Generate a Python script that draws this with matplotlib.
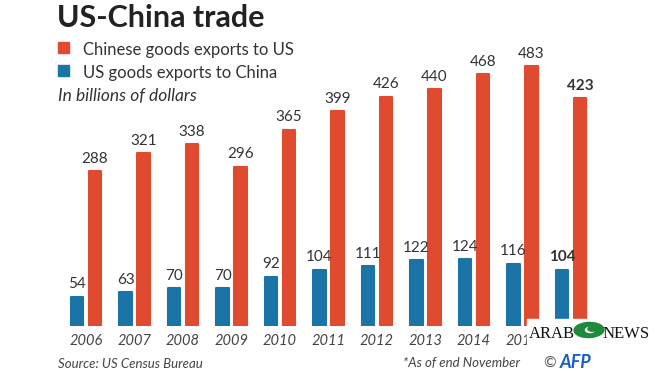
import matplotlib.pyplot as plt
from matplotlib.patches import Rectangle, Ellipse, Circle

years = ["2006", "2007", "2008", "2009", "2010", "2011", "2012", "2013", "2014", "2015", "2016*"]
china_to_us = [288, 321, 338, 296, 365, 399, 426, 440, 468, 483, 423]
us_to_china = [54, 63, 70, 70, 92, 104, 111, 122, 124, 116, 104]

RED = "#e04b30"
BLUE = "#1a74a8"
TXT = "#333333"

plt.rcParams['font.family'] = ['Lato', 'DejaVu Sans']

fig = plt.figure(figsize=(6.6, 3.71), dpi=100)
W, H = 660, 371

# axes placed so bars sit on y=326px and pairs are ~48.5px apart
ax = fig.add_axes([61.75 / W, 1 - 326 / H, 533.5 / W, 269 / H])
ax.set_xlim(-0.5, 10.5)
ax.set_ylim(0, 500)
ax.axis("off")

x = list(range(len(years)))
off = 0.185
bw = 0.26
xb = [i - off for i in x]
xr = [i + off for i in x]
ax.bar(xb, us_to_china, width=bw, color=BLUE, edgecolor=BLUE, linewidth=1.5, joinstyle="round")
ax.bar(xr, china_to_us, width=bw, color=RED, edgecolor=RED, linewidth=1.5, joinstyle="round")

last = len(years) - 1
for i in x:
    w = "bold" if i == last else "normal"
    ax.annotate(str(us_to_china[i]), (xb[i], us_to_china[i]), xytext=(0, 4),
                textcoords="offset points", ha="center", va="bottom",
                fontsize=11, color=TXT, fontweight=w)
    ax.annotate(str(china_to_us[i]), (xr[i], china_to_us[i]), xytext=(0, 4),
                textcoords="offset points", ha="center", va="bottom",
                fontsize=11, color=TXT, fontweight=w)
    if i < last:  # last year label sits under the watermark
        ax.annotate(years[i], (i, 0), xytext=(0, -11), textcoords="offset points",
                    ha="center", va="center", fontsize=10.5, style="italic", color="#444444")

# header
fig.text(57 / W, 1 - 27 / H, "US-China trade", fontsize=22, fontweight="bold", color="#222222")
fig.patches.append(Rectangle((58 / W, 1 - 53 / H), 11 / W, 11 / H, transform=fig.transFigure,
                             color=RED, figure=fig))
fig.patches.append(Rectangle((58 / W, 1 - 76 / H), 11 / W, 11 / H, transform=fig.transFigure,
                             color=BLUE, figure=fig))
fig.text(83 / W, 1 - 55 / H, "Chinese goods exports to US", fontsize=12, color=TXT)
fig.text(83 / W, 1 - 78 / H, "US goods exports to China", fontsize=12, color=TXT)
fig.text(58 / W, 1 - 101 / H, "In billions of dollars", fontsize=12.5, style="italic", color=TXT)

# footer
fig.text(58 / W, 1 - 368 / H, "Source: US Census Bureau", fontsize=9.5, style="italic", color="#444444")
fig.text(403 / W, 1 - 367 / H, "*As of end November", fontsize=9.5, style="italic", color="#444444")
fig.text(543 / W, 1 - 368 / H, "©", fontsize=11, color="#555555")
fig.text(560 / W, 1 - 368 / H, "AFP", fontsize=13, fontweight="bold", style="italic", color="#1a5fc0")

# Arab News watermark
fig.patches.append(Rectangle((527 / W, 1 - 345 / H), 133 / W, 26 / H, transform=fig.transFigure,
                             color="white", figure=fig, zorder=5))
fig.patches.append(Ellipse((589 / W, 1 - 330 / H), 30 / W, 15 / H, angle=12, transform=fig.transFigure,
                           color="#1f8a3c", figure=fig, zorder=6))
fig.patches.append(Circle((590 / W, 1 - 330 / H), 4.5 / W, transform=fig.transFigure,
                          color="white", figure=fig, zorder=7))
fig.patches.append(Circle((592 / W, 1 - 329 / H), 4.0 / W, transform=fig.transFigure,
                          color="#1f8a3c", figure=fig, zorder=8))
fig.text(529 / W, 1 - 338 / H, "ARAB", fontsize=12, family="Liberation Serif", color="#111111", zorder=9)
fig.text(603 / W, 1 - 338 / H, "NEWS", fontsize=12, family="Liberation Serif", color="#111111", zorder=9)

fig.savefig("out.png", dpi=100)
